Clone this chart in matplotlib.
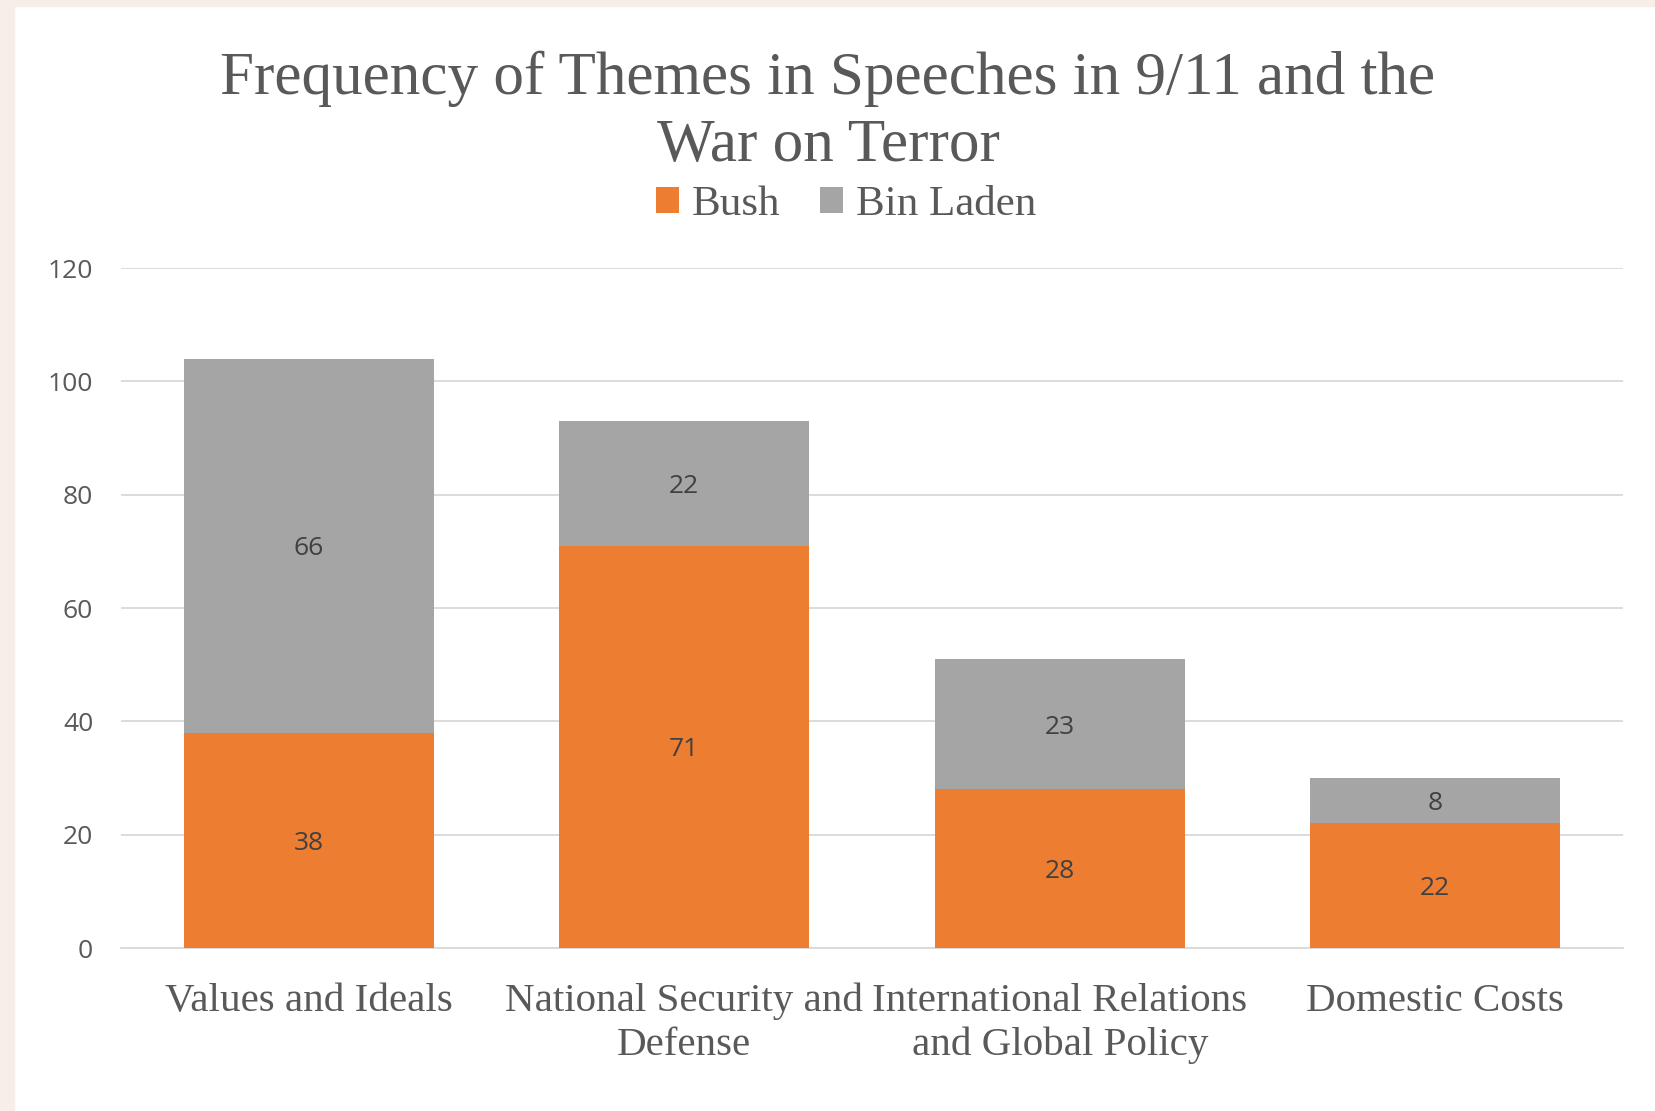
import matplotlib.pyplot as plt
import numpy as np

# chart data
categories = ['Values and Ideals', 'National Security and\nDefense',
              'International Relations\nand Global Policy', 'Domestic Costs']
bush = [38, 71, 28, 22]
bin_laden = [66, 22, 23, 8]
yticks = [0, 20, 40, 60, 80, 100, 120]

orange = '#ED7D31'
grey = '#A5A5A5'
text_col = '#595959'

fig = plt.figure(figsize=(16.56, 11.11), dpi=100)
fig.patch.set_facecolor('white')
# peach frame on the left and top
fig.add_artist(plt.Rectangle((0, 0), 14 / 1656, 1, transform=fig.transFigure,
                             color='#F8EEE8', zorder=0))
fig.add_artist(plt.Rectangle((0, 1 - 6 / 1111), 1, 6 / 1111, transform=fig.transFigure,
                             color='#F8EEE8', zorder=0))

ax = fig.add_axes([121 / 1656, 1 - 948 / 1111, (1623 - 121) / 1656, (948 - 268) / 1111])
x = np.arange(len(categories))
w = 0.665
b1 = ax.bar(x, bush, w, color=orange, label='Bush', zorder=3)
b2 = ax.bar(x, bin_laden, w, bottom=bush, color=grey, label='Bin Laden', zorder=3)

for rects, vals, base in [(b1, bush, [0] * 4), (b2, bin_laden, bush)]:
    for r, v, b in zip(rects, vals, base):
        ax.text(r.get_x() + r.get_width() / 2, b + v / 2, str(v), ha='center',
                va='center_baseline', fontsize=19, color='#404040', family='Open Sans',
                zorder=4)

ax.set_xlim(-0.5, 3.5)
ax.set_ylim(0, 120)
ax.set_yticks(yticks)
ax.set_yticklabels([str(t) for t in yticks], family='Open Sans', fontsize=19, color=text_col)
ax.set_xticks(x)
ax.set_xticklabels(categories, family='Liberation Serif', fontsize=29.5, color=text_col,
                   linespacing=1.25)
ax.tick_params(axis='both', length=0)
ax.tick_params(axis='x', pad=25)
ax.tick_params(axis='y', pad=20)
ax.grid(axis='y', color='#D9D9D9', linewidth=1.3, zorder=0)
for s in ['top', 'right', 'left']:
    ax.spines[s].set_visible(False)
ax.spines['bottom'].set_color('#D9D9D9')
ax.spines['bottom'].set_linewidth(1.3)

fig.text(0.5, 1 - 112 / 1111, 'Frequency of Themes in Speeches in 9/11 and the\nWar on Terror',
         ha='center', va='center', fontsize=44, family='Liberation Serif', color=text_col,
         linespacing=1.27)

fig.legend(loc='center', bbox_to_anchor=(0.5 + 18 / 1656, 1 - 205 / 1111), ncol=2,
           frameon=False, prop={'family': 'Liberation Serif', 'size': 31}, labelcolor=text_col,
           handlelength=0.55, handleheight=0.55, handletextpad=0.3, columnspacing=0.9)

fig.savefig('out.png', dpi=100)
